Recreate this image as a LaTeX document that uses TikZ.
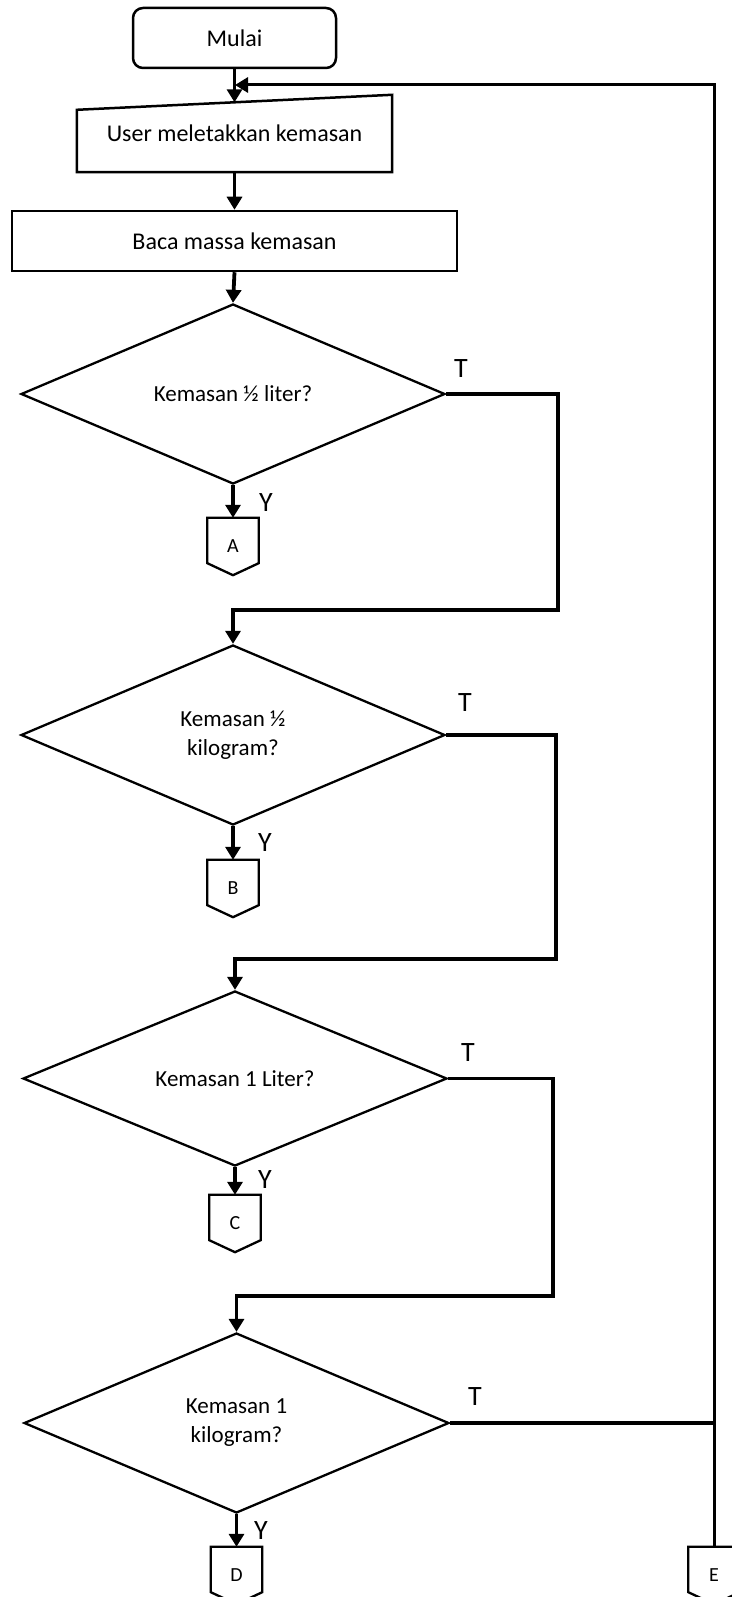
\documentclass[tikz,border=0pt]{standalone}
\usepackage{fontspec}
\setmainfont{Carlito}
\usepackage{tikz}
\usetikzlibrary{shapes.geometric, arrows.meta, calc}

\tikzset{
	flowbox/.style={draw, line width=2.5pt, inner sep=0pt, font=\fontsize{24}{29}\selectfont},
	startbox/.style={flowbox, rounded corners=10pt, minimum width=203pt, minimum height=60pt},
	procbox/.style={flowbox, minimum width=445pt, minimum height=60pt},
	inbox/.style={inner sep=0pt, minimum width=315pt, minimum height=77pt, font=\fontsize{24}{29}\selectfont},
	decision/.style={diamond, draw, line width=2.3pt, inner sep=0pt, minimum width=424pt, minimum height=180pt, align=center, font=\fontsize{23}{29}\selectfont},
	offpage/.style={inner sep=0pt, minimum width=51pt, minimum height=57pt, font=\fontsize{20}{24}\selectfont},
	answer/.style={inner sep=0pt, font=\fontsize{28}{30}\selectfont},
	branch/.style={line width=3.8pt},
	flow/.style={branch, -{Triangle[width=15pt,length=13pt]}}
}

\begin{document}
\begin{tikzpicture}[x=1pt, y=-1pt]
	\path[use as bounding box, fill=white] (0,0) rectangle (731,1597);
	
	% start, input, reading
	\node[startbox] (mulai) at (234.5,38) {Mulai};
	\node[inbox] (letak) at (234.5,133.5) {User meletakkan kemasan};
	\draw[line width=2.5pt] (letak.south west) -- ([yshift=-15pt]letak.north west) -- (letak.north east) -- (letak.south east) -- cycle;
	\node[procbox] (baca) at (234.5,241) {Baca massa kemasan};
	
	% the four checks
	\node[decision] (cek1) at (233,394) {Kemasan ½ liter?};
	\node[decision] (cek2) at (233,735) {Kemasan ½\\kilogram?};
	\node[decision, minimum height=167pt] (cek3) at (235,1078.5) {Kemasan 1 Liter?};
	\node[decision, minimum width=425pt] (cek4) at (236.5,1423) {Kemasan 1\\kilogram?};
	
	% off-page connectors
	\node[offpage] (A) at (233,546.5) {A};
	\node[offpage] (B) at (233,888.5) {B};
	\node[offpage] (C) at (235,1223.5) {C};
	\node[offpage] (D) at (236.5,1575.5) {D};
	\node[offpage] (E) at (714,1575.5) {E};
	\foreach \c in {A,B,C,D,E}
		\draw[line width=2.3pt] (\c.north west) -- ([yshift=12pt]\c.south west) -- (\c.south) -- ([yshift=12pt]\c.south east) -- (\c.north east) -- cycle;
	
	% main line
	\draw[flow] (mulai.south) -- ([yshift=-7.5pt]letak.north);
	\draw[flow] (letak.south) -- (baca.north);
	\draw[flow] (baca.south) -- (cek1.north);
	
	% Y
	\draw[flow] (cek1.south) -- (A.north);
	\draw[flow] (cek2.south) -- (B.north);
	\draw[flow] (cek3.south) -- (C.north);
	\draw[flow] (cek4.south) -- (D.north);
	\node[answer] (y1) at (266,503) {Y};
	\node[answer] (y2) at (265,843) {Y};
	\node[answer] (y3) at (265,1180) {Y};
	\node[answer] (y4) at (261,1530) {Y};
	
	% T
	\coordinate (r1) at (558,610);
	\coordinate (r2) at (556,959);
	\coordinate (r3) at (553,1296);
	\draw[flow] (cek1.east) -| (r1) -| (cek2.north);
	\draw[flow] (cek2.east) -| (r2) -| (cek3.north);
	\draw[flow] (cek3.east) -| (r3) -| (cek4.north);
	\draw[branch] (cek4.east) -- (cek4.east -| E);
	\node[answer] (t1) at (461,369) {T};
	\node[answer] (t2) at (465,703) {T};
	\node[answer] (t3) at (468,1053) {T};
	\node[answer] (t4) at (475,1397) {T};
	
	% back to the top
	\coordinate (balik) at (235,85);
	\draw[flow, line width=3pt] (E.north) |- (balik);
\end{tikzpicture}
\end{document}
